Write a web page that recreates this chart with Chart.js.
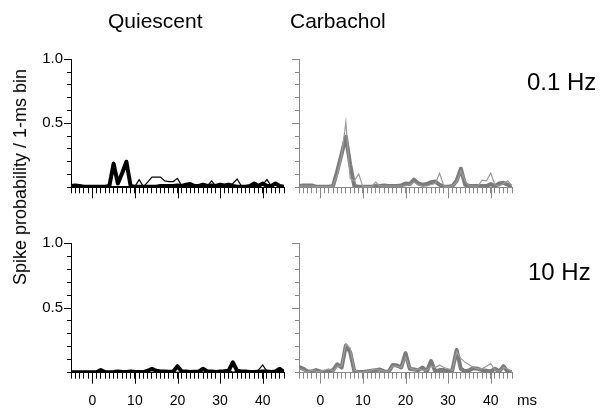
<!DOCTYPE html>
<html>
<head>
<meta charset="utf-8">
<script src="https://cdn.jsdelivr.net/npm/chart.js@4.4.0/dist/chart.umd.min.js"></script>
<style>
  body { margin: 0; background: #fff; }
  #wrap { position: relative; width: 604px; height: 412px; font-family: "Liberation Sans", Arial, sans-serif; color: #000; }
  #wrap canvas { position: absolute; left: 0; top: 0; }
  .lbl { position: absolute; white-space: nowrap; line-height: 1; }
  #ytitle { left: 20px; top: 177px; font-size: 18px; transform: translate(-50%, -50%) rotate(-90deg); }
</style>
</head>
<body>
<div id="wrap">
  <canvas id="qLow" width="604" height="412"></canvas>
  <canvas id="cLow" width="604" height="412"></canvas>
  <canvas id="qHigh" width="604" height="412"></canvas>
  <canvas id="cHigh" width="604" height="412"></canvas>
  <div class="lbl" style="left:108px;top:10px;font-size:21px">Quiescent</div>
  <div class="lbl" style="left:290px;top:10px;font-size:21px">Carbachol</div>
  <div class="lbl" style="left:527px;top:70px;font-size:24px">0.1 Hz</div>
  <div class="lbl" style="left:528px;top:260px;font-size:24px">10 Hz</div>
  <div class="lbl" style="left:517px;top:392px;font-size:15px">ms</div>
  <div class="lbl" id="ytitle">Spike probability / 1-ms bin</div>
</div>
<script>
// bins (ms)
const ms = [-5,-4,-3,-2,-1,0,1,2,3,4,5,6,7,8,9,10,11,12,13,14,15,16,17,18,19,20,
  21,22,23,24,25,26,27,28,29,30,31,32,33,34,35,36,37,38,39,40,41,42,43,44,45];

const xMajor = [0, 10, 20, 30, 40];
const yTicks = [0, 0.1, 0.2, 0.3, 0.4, 0.5, 0.6, 0.7, 0.8, 0.9, 1.0];
const yMajor = [0.5, 1.0];

// Quiescent, 0.1 Hz
const qLowThick = [0.01,0.015,0.01,0.005,0.005,0.005,0.005,0.005,0.005,0.01,0.185,0.03,0.11,0.2,0.01,0.005,
  0.005,0.005,0.005,0.005,0.005,0.01,0.01,0.01,0.01,0.015,0.01,0.02,0.025,0.01,0.01,0.02,0.01,0.015,0.01,0.02,
  0.015,0.02,0.01,0.005,0.005,0.005,0.01,0.03,0.01,0.03,0.01,0.01,0.03,0.01,0.005];
const qLowThin = [0.005,0.005,0.005,0.005,0.005,0.005,0.005,0.005,0.005,0.005,0.005,0.005,0.005,0.005,0.005,0.005,
  0.06,0.005,0.04,0.08,0.08,0.08,0.05,0.045,0.045,0.07,0.01,0.01,0.005,0.005,0.005,0.01,0.01,0.05,0.01,0.03,
  0.01,0.01,0.03,0.065,0.01,0.005,0.005,0.005,0.005,0.02,0.06,0.01,0.02,0.01,0.005];

// Carbachol, 0.1 Hz
const cLowThick = [0.01,0.015,0.015,0.015,0.005,0.005,0.005,0.005,0.01,0.13,0.26,0.395,0.18,0.01,0.005,0.005,
  0.005,0.005,0.01,0.01,0.015,0.01,0.01,0.01,0.015,0.03,0.025,0.06,0.03,0.02,0.025,0.04,0.045,0.02,0.005,0.005,
  0.01,0.05,0.145,0.02,0.01,0.01,0.01,0.01,0.01,0.025,0.01,0.03,0.035,0.02,0.005];
const cLowThin = [0.01,0.01,0.01,0.01,0.005,0.005,0.005,0.005,0.01,0.1,0.25,0.51,0.07,0.05,0.105,0.005,
  0.005,0.005,0.04,0.01,0.01,0.01,0.01,0.01,0.01,0.01,0.02,0.04,0.02,0.01,0.01,0.02,0.03,0.11,0.01,0.005,
  0.01,0.04,0.13,0.05,0.01,0.01,0.01,0.055,0.05,0.11,0.02,0.01,0.03,0.05,0.01];

// Quiescent, 10 Hz
const qHighThick = [0.003,0.003,0.003,0.003,0.003,0.003,0.003,0.02,0.005,0.003,0.005,0.01,0.005,0.005,0.01,0.005,
  0.005,0.005,0.015,0.03,0.015,0.01,0.01,0.008,0.01,0.05,0.01,0.01,0.005,0.008,0.01,0.03,0.01,0.01,0.005,0.01,
  0.01,0.015,0.08,0.015,0.01,0.01,0.005,0.005,0.008,0.01,0.01,0.005,0.01,0.03,0.005];
const qHighThin = [0.003,0.003,0.003,0.003,0.003,0.003,0.003,0.015,0.003,0.003,0.003,0.01,0.003,0.003,0.003,0.003,
  0.003,0.003,0.02,0.02,0.015,0.005,0.005,0.005,0.005,0.003,0.005,0.005,0.005,0.01,0.015,0.003,0.005,0.005,0.005,0.01,
  0.02,0.02,0.003,0.01,0.005,0.005,0.005,0.005,0.02,0.06,0.01,0.005,0.005,0.01,0.003];

// Carbachol, 10 Hz
const cHighThick = [0.045,0.03,0.01,0.01,0.02,0.01,0.005,0.01,0.02,0.065,0.04,0.21,0.16,0.01,0.005,0.005,
  0.01,0.015,0.02,0.025,0.01,0.005,0.06,0.055,0.04,0.15,0.03,0.025,0.02,0.04,0.01,0.09,0.01,0.02,0.02,0.01,
  0.02,0.175,0.03,0.01,0.02,0.035,0.03,0.02,0.015,0.01,0.03,0.01,0.05,0.01,0.005];
const cHighThin = [0.03,0.02,0.005,0.02,0.01,0.01,0.02,0.03,0.01,0.05,0.05,0.22,0.19,0.02,0.005,0.005,
  0.01,0.02,0.03,0.02,0.01,0.01,0.05,0.05,0.04,0.12,0.04,0.02,0.03,0.02,0.02,0.05,0.04,0.06,0.04,0.03,
  0.02,0.16,0.11,0.08,0.06,0.04,0.03,0.03,0.05,0.07,0.02,0.01,0.04,0.03,0.005];

const FONT = '"Liberation Sans", Arial, sans-serif';
const X_H = 40, Y_W = 50;   // fixed axis box sizes

// longer marks at 0,10,...,40 and at 0.5 / 1.0
const majorTicks = {
  id: 'majorTicks',
  afterDraw(chart, args, opts) {
    const { ctx, scales: { x, y } } = chart;
    ctx.save();
    ctx.strokeStyle = opts.color;
    ctx.lineWidth = 1;
    ctx.beginPath();
    xMajor.forEach(v => {
      const px = Math.round(x.getPixelForValue(v)) + 0.5;
      ctx.moveTo(px, y.bottom);
      ctx.lineTo(px, y.bottom + 11);
    });
    yMajor.forEach(v => {
      const py = Math.round(y.getPixelForValue(v)) + 0.5;
      ctx.moveTo(x.left, py);
      ctx.lineTo(x.left - 7, py);
    });
    ctx.stroke();
    ctx.restore();
  }
};

function panel(id, area, thick, thin, col, showX, showY) {
  new Chart(document.getElementById(id), {
    type: 'line',
    data: {
      datasets: [
        { data: ms.map((x, i) => ({ x, y: thin[i] })), borderColor: col.thin, borderWidth: 1.2,
          pointRadius: 0, tension: 0 },
        { data: ms.map((x, i) => ({ x, y: thick[i] })), borderColor: col.thick, borderWidth: 4,
          borderJoinStyle: 'round', pointRadius: 0, tension: 0 }
      ]
    },
    options: {
      responsive: false,
      animation: false,
      events: [],
      layout: { padding: { left: area.l - Y_W, top: area.t, right: 604 - area.r, bottom: 412 - area.b - X_H } },
      plugins: { legend: { display: false }, tooltip: { enabled: false }, majorTicks: { color: col.axis } },
      scales: {
        x: {
          type: 'linear', min: -5, max: 45,
          afterBuildTicks: s => { s.ticks = ms.map(v => ({ value: v })); },
          afterFit: s => { s.height = X_H; s.paddingLeft = 0; s.paddingRight = 0; },
          grid: { drawOnChartArea: false, tickLength: 6, color: col.axis },
          border: { color: col.axis },
          ticks: {
            autoSkip: false, maxRotation: 0, padding: 14, color: '#000',
            font: { family: FONT, size: 14 },
            callback: v => (showX && xMajor.includes(v)) ? String(v) : ''
          }
        },
        y: {
          type: 'linear', min: 0, max: 1,
          afterBuildTicks: s => { s.ticks = yTicks.map(v => ({ value: v })); },
          afterFit: s => { s.width = Y_W; s.paddingTop = 0; s.paddingBottom = 0; },
          grid: { drawOnChartArea: false, tickLength: 4, color: col.axis },
          border: { color: col.axis },
          ticks: {
            autoSkip: false, padding: 4, color: '#000',
            font: { family: FONT, size: 15 },
            callback: v => (showY && yMajor.includes(v)) ? v.toFixed(1) : ''
          }
        }
      }
    },
    plugins: [majorTicks]
  });
}

const black = { thick: '#000', thin: '#000', axis: '#000' };
const grey = { thick: '#7b7b7b', thin: '#9c9c9c', axis: '#888' };

panel('qLow',  { l: 71,  r: 284, t: 59.3,  b: 187.3 }, qLowThick,  qLowThin,  black, false, true);
panel('cLow',  { l: 299, r: 512, t: 59.3,  b: 187.3 }, cLowThick,  cLowThin,  grey,  false, false);
panel('qHigh', { l: 71,  r: 284, t: 243.3, b: 372.7 }, qHighThick, qHighThin, black, true,  true);
panel('cHigh', { l: 299, r: 512, t: 243.3, b: 372.7 }, cHighThick, cHighThin, grey,  true,  false);
</script>
</body>
</html>
